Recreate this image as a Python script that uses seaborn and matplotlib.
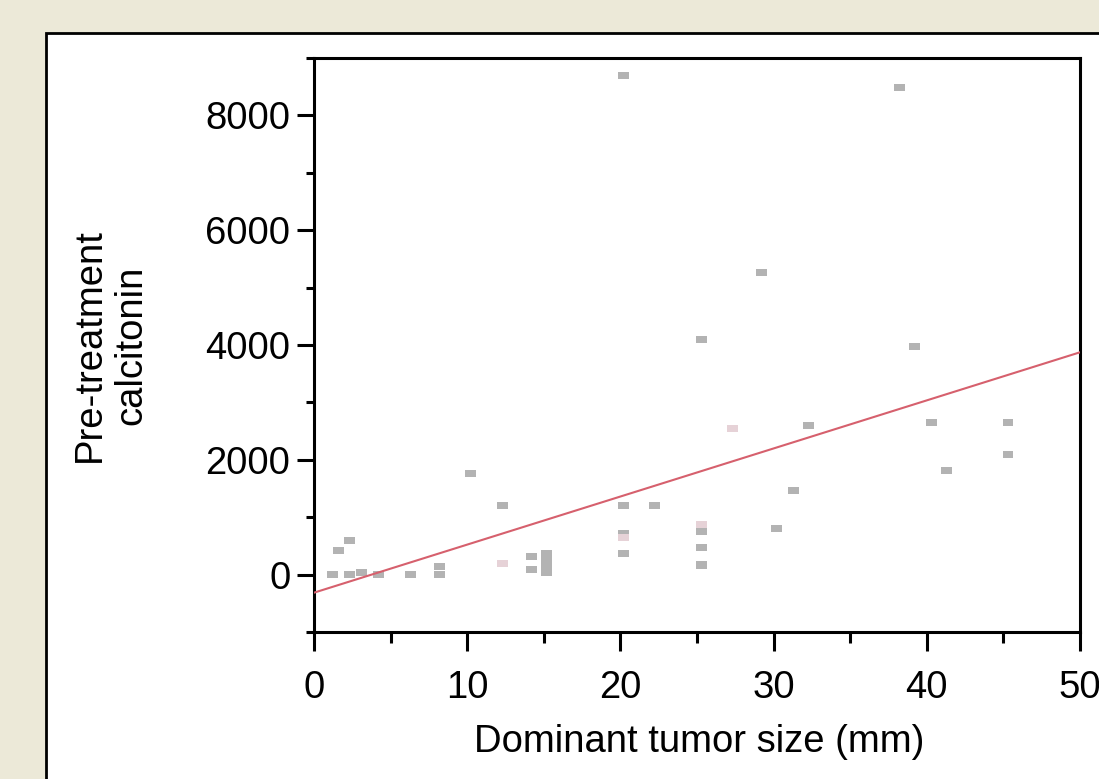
import numpy as np
import pandas as pd
import matplotlib
matplotlib.use("Agg")
import matplotlib.pyplot as plt
from matplotlib.patches import Rectangle
from matplotlib.ticker import MultipleLocator
import seaborn as sns

# ---- data ----
tumor_size = [1.2, 1.6, 2.3, 2.3, 3.1, 4.2, 6.3, 8.2, 8.2, 10.2, 12.3, 12.3,
              14.2, 14.2, 15.2, 15.2, 15.2, 15.2, 20.2, 20.2, 20.2, 20.2, 20.2,
              22.2, 25.3, 25.3, 25.3, 25.3, 25.3, 25.3, 27.3, 29.2, 30.2, 31.3,
              32.3, 38.2, 39.2, 40.3, 41.3, 45.3, 45.3]
calcitonin = [0, 420, 590, 0, 40, 0, 0, 0, 140, 1760, 1200, 190,
              310, 90, 30, 130, 240, 370, 8700, 1205, 713, 643, 365,
              1205, 4090, 870, 750, 470, 160, 170, 2540, 5270, 810, 1470,
              2590, 8480, 3980, 2650, 1810, 2650, 2090]
group = ["a", "a", "a", "a", "a", "a", "a", "a", "a", "a", "a", "b",
         "a", "a", "a", "a", "a", "a", "a", "a", "a", "b", "a",
         "a", "a", "b", "a", "a", "a", "a", "b", "a", "a", "a",
         "a", "a", "a", "a", "a", "a", "a"]
fit_x = [0, 50]
fit_y = [-315, 3873]
x_ticks = [0, 10, 20, 30, 40, 50]
y_ticks = [0, 2000, 4000, 6000, 8000]
x_label = "Dominant tumor size (mm)"
y_label = "Pre-treatment\ncalcitonin"

df = pd.DataFrame({"size": tumor_size, "calc": calcitonin, "grp": group})

sns.set_style("ticks")
plt.rcParams["font.family"] = ["Liberation Sans", "DejaVu Sans"]

fig = plt.figure(figsize=(10.99, 7.79), dpi=100, facecolor="#ECE9D8")
fig.add_artist(Rectangle((45.5 / 1099, -0.1), 1.2, (1 - 32.5 / 779) + 0.1,
                         transform=fig.transFigure, facecolor="white",
                         edgecolor="black", lw=2.0, zorder=0))
ax = fig.add_axes([314 / 1099, 1 - 632 / 779, (1080 - 314) / 1099, (632 - 58) / 779])
ax.set_facecolor("white")

marker = np.array([[-1, -0.65], [1, -0.65], [1, 0.65], [-1, 0.65], [-1, -0.65]])
sns.scatterplot(data=df, x="size", y="calc", hue="grp",
                palette={"a": "#b3b3b3", "b": "#e6d2d7"},
                marker=marker, s=62, linewidth=0, legend=False, ax=ax, zorder=2)
sns.lineplot(x=fit_x, y=fit_y, color="#d6606d", lw=1.5, ax=ax, zorder=3)

ax.set_xlim(0, 50)
ax.set_ylim(-1000, 9000)
ax.set_xticks(x_ticks)
ax.set_yticks(y_ticks)
ax.xaxis.set_minor_locator(MultipleLocator(5))
ax.yaxis.set_minor_locator(MultipleLocator(1000))
ax.tick_params(axis="both", which="both", direction="out", width=2.2,
               color="black", labelsize=27.5, labelcolor="black")
ax.tick_params(axis="x", which="major", length=14, pad=13)
ax.tick_params(axis="x", which="minor", length=8)
ax.tick_params(axis="y", which="major", length=12, pad=5)
ax.tick_params(axis="y", which="minor", length=6)
for sp in ax.spines.values():
    sp.set_visible(True)
    sp.set_linewidth(2.2)
    sp.set_color("black")

ax.set_xlabel(x_label, fontsize=27.5, color="black")
ax.set_ylabel(y_label, fontsize=27.5, color="black", linespacing=1.2)
ax.xaxis.set_label_coords(0.503, -0.16)
ax.yaxis.set_label_coords(-0.215, 0.5)

fig.savefig("out.png", dpi=100, facecolor=fig.get_facecolor())
